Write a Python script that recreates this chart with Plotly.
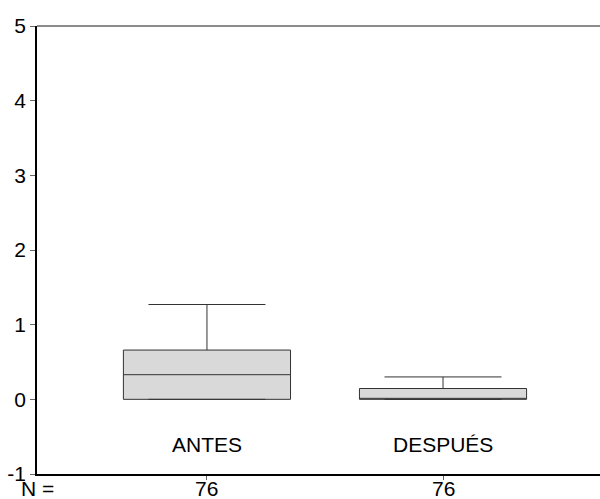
import plotly.graph_objects as go

categories = ["ANTES", "DESPUÉS"]
positions = [1, 2]
n_values = [76, 76]
q1 = [0.0, 0.0]
median = [0.33, 0.0]
q3 = [0.66, 0.145]
lowerfence = [0.0, 0.0]
upperfence = [1.27, 0.30]
y_ticks = [-1, 0, 1, 2, 3, 4, 5]

FONT = "Liberation Sans, Arial, sans-serif"
FS = 21
fig = go.Figure()
for i, c in enumerate(categories):
    fig.add_trace(go.Box(
        x=[positions[i]], q1=[q1[i]], median=[median[i]], q3=[q3[i]],
        lowerfence=[lowerfence[i]], upperfence=[upperfence[i]],
        width=0.708, whiskerwidth=0.7,
        fillcolor="#d9d9d9", line=dict(color="#333333", width=1),
        name=c, showlegend=False, hoverinfo="skip",
    ))
    fig.add_annotation(x=positions[i], y=-0.6, text=c, showarrow=False,
                       font=dict(family=FONT, size=FS, color="black"))
    fig.add_annotation(x=positions[i], yref="paper", y=0, yshift=-1,
                       yanchor="top", text=str(n_values[i]), showarrow=False,
                       font=dict(family=FONT, size=FS, color="black"))

fig.add_annotation(xref="paper", yref="paper", x=-0.032, y=0, yshift=-1,
                   xanchor="left", yanchor="top", text="N =", showarrow=False,
                   font=dict(family=FONT, size=FS, color="black"))
fig.add_shape(type="line", xref="paper", yref="paper", x0=0, x1=1, y0=1, y1=1,
              line=dict(color="#666666", width=1.5))

fig.update_layout(
    width=600, height=499,
    margin=dict(l=37, r=0, t=26, b=25, pad=0),
    plot_bgcolor="white", paper_bgcolor="white",
    font=dict(family=FONT, size=FS, color="black"),
    xaxis=dict(range=[0.28, 2.665], tickvals=positions, showticklabels=False,
               ticks="outside", ticklen=4, tickcolor="#666666",
               showline=True, linecolor="black", linewidth=1.5,
               showgrid=False, zeroline=False, automargin=False),
    yaxis=dict(range=[-1, 5], tickvals=y_ticks,
               ticktext=[str(v) for v in y_ticks],
               ticks="outside", ticklen=5, tickcolor="#666666",
               showline=True, linecolor="black", linewidth=1.5,
               showgrid=False, zeroline=False, automargin=False,
               ticklabelstandoff=0),
)
fig.write_html("out.html", config={"displayModeBar": False},
               post_script="document.body.style.margin='0';")
